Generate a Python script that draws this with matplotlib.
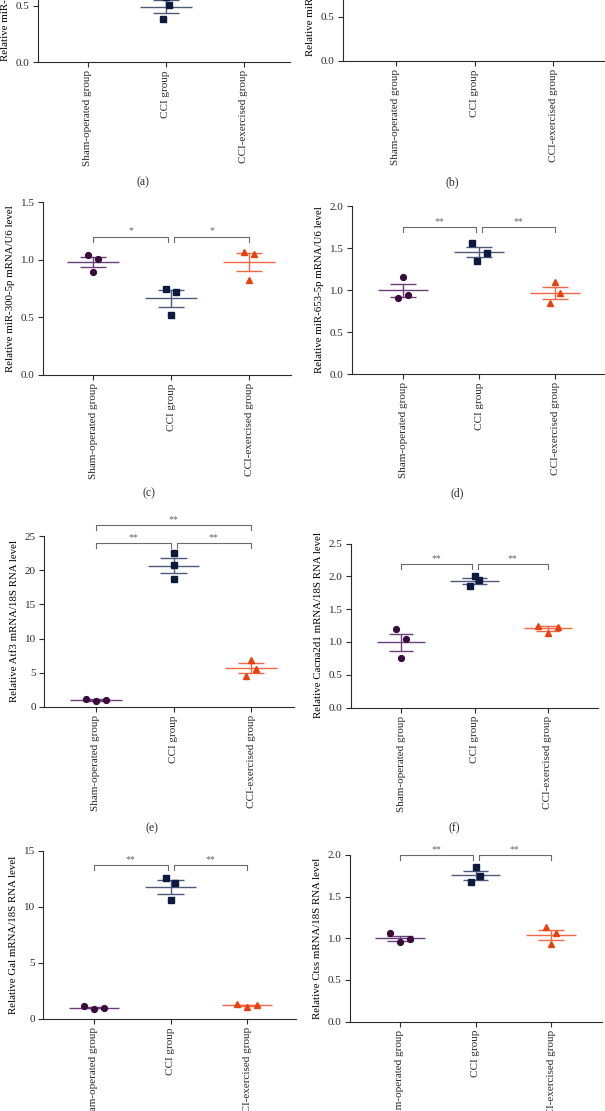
import numpy as np
import matplotlib.pyplot as plt

plt.rcParams['font.family'] = ['Liberation Serif', 'DejaVu Serif']
plt.rcParams['font.size'] = 8

W, H = 605, 1111

groups = ['Sham-operated group', 'CCI group', 'CCI-exercised group']

# (a) only the CCI group is visible in the crop
a_cci = [0.51, 0.38, 0.58]
# (c) miR-300-5p
c_sham = [1.04, 1.01, 0.89]
c_cci = [0.75, 0.72, 0.52]
c_ex = [1.07, 1.05, 0.82]
# (d) miR-653-5p
d_sham = [1.15, 0.90, 0.94]
d_cci = [1.56, 1.35, 1.44]
d_ex = [1.09, 0.85, 0.96]
# (e) Atf3
e_sham = [1.18, 0.84, 1.03]
e_cci = [22.5, 20.7, 18.7]
e_ex = [6.9, 5.6, 4.6]
# (f) Cacna2d1
f_sham = [1.19, 1.05, 0.75]
f_cci = [2.00, 1.94, 1.85]
f_ex = [1.25, 1.14, 1.23]
# (g) Gal
g_sham = [1.12, 0.92, 1.02]
g_cci = [12.6, 12.1, 10.6]
g_ex = [1.34, 1.10, 1.22]
# (h) Ctss
h_sham = [1.06, 0.95, 0.99]
h_cci = [1.85, 1.75, 1.67]
h_ex = [1.14, 1.06, 0.93]

# significance brackets: (from group, to group, height, label)
c_sig = [(0, 1, 1.20, '*'), (1, 2, 1.20, '*')]
d_sig = [(0, 1, 1.75, '**'), (1, 2, 1.75, '**')]
e_sig = [(0, 1, 24.0, '**'), (1, 2, 24.0, '**'), (0, 2, 26.6, '**')]
f_sig = [(0, 1, 2.18, '**'), (1, 2, 2.18, '**')]
g_sig = [(0, 1, 13.75, '**'), (1, 2, 13.75, '**')]
h_sig = [(0, 1, 2.0, '**'), (1, 2, 2.0, '**')]

##########################
# styles
mk_col = ['#3a0c3c', '#0c1a40', '#e8400f']
ln_col = ['#6a3f78', '#4d5a7a', '#f26844']
markers = ['o', 's', '^']
msizes = [4.2, 3.8, 4.3]
axis_col = '#2a2a2a'
sig_col = '#6a6a6a'

# horizontal jitter of the dots (in tick units)
J0 = [0.0, 0.0, 0.0]
Jc = [-0.065, 0.065, 0.0]
Jd = [0.0, -0.065, 0.065]
Jw = [-0.13, 0.0, 0.13]


def place(fig, x0, x1, ytop, ybot):
    "axes box given in pixel coords of the final image"
    return fig.add_axes([x0 / W, 1 - ybot / H, (x1 - x0) / W, (ybot - ytop) / H])


def panel(fig, box, ticks_px, ymax, ystep, yfmt, ylabel, data, jitter, sig):
    x0, x1, ytop, ybot = box
    ax = place(fig, x0, x1, ytop, ybot)
    sp = (ticks_px[2] - ticks_px[0]) / 2
    ax.set_xlim((x0 - ticks_px[0]) / sp, (x1 - ticks_px[0]) / sp)
    ax.set_ylim(0, ymax)

    for i, vals in enumerate(data):
        if vals is None:
            continue
        vals = np.asarray(vals)
        m = vals.mean()
        se = vals.std(ddof=1) / np.sqrt(len(vals))
        ax.hlines(m, i - 0.33, i + 0.33, color=ln_col[i], lw=1.0, zorder=2)
        ax.hlines([m - se, m + se], i - 0.17, i + 0.17, color=ln_col[i], lw=1.0, zorder=2)
        ax.vlines(i, m - se, m + se, color=ln_col[i], lw=1.0, zorder=2)
        ax.plot(i + np.asarray(jitter[i]), vals, ls='none', marker=markers[i],
                ms=msizes[i], color=mk_col[i], mec=mk_col[i], zorder=3)

    drop = 5 / (ybot - ytop) * ymax
    gap = 3 / sp
    for a, b, y, txt in sig:
        xa = a + (gap if a == 1 else 0)
        xb = b - (gap if b == 1 else 0)
        ax.plot([xa, xa, xb, xb], [y - drop, y, y, y - drop], color=sig_col,
                lw=0.8, clip_on=False)
        ax.text((xa + xb) / 2, y + 0.2 * drop, txt, ha='center', va='bottom',
                color=sig_col, fontsize=7, clip_on=False)

    ax.set_xticks([0, 1, 2])
    ax.set_xticklabels(groups, rotation=90)
    ax.set_yticks(np.arange(0, ymax + ystep / 2, ystep))
    ax.set_yticklabels([yfmt % v for v in np.arange(0, ymax + ystep / 2, ystep)])
    ax.set_ylabel(ylabel, fontsize=7.8, labelpad=4)
    for s in ['top', 'right']:
        ax.spines[s].set_visible(False)
    for s in ['left', 'bottom']:
        ax.spines[s].set_color(axis_col)
        ax.spines[s].set_linewidth(0.8)
    ax.tick_params(colors=axis_col, length=3.5, width=0.8, labelsize=8, pad=2.5)
    return ax


fig = plt.figure(figsize=(W / 100, H / 100), dpi=100)

panel(fig, (38, 290, -107, 62), (88, 167, 244), 1.5, 0.5, '%.1f',
      'Relative miR-300-3p mRNA/U6 level', [None, a_cci, None], [J0, [0.04, -0.04, 0.0], J0], [])
panel(fig, (343, 605, -115, 61), (396, 474, 553), 2.0, 0.5, '%.1f',
      'Relative miR-155-5p mRNA/U6 level', [None, None, None], [J0, J0, J0], [])
panel(fig, (43, 291, 202, 375), (93, 171, 249), 1.5, 0.5, '%.1f',
      'Relative miR-300-5p mRNA/U6 level', [c_sham, c_cci, c_ex], [Jc, Jc, Jc], c_sig)
panel(fig, (352, 604, 206, 374), (403, 477, 555), 2.0, 0.5, '%.1f',
      'Relative miR-653-5p mRNA/U6 level', [d_sham, d_cci, d_ex],
      [Jd, [-0.09, -0.03, 0.1], Jd], d_sig)
panel(fig, (44, 294, 536, 707), (96, 173, 251), 25, 5, '%d',
      'Relative Atf3 mRNA/18S RNA level', [e_sham, e_cci, e_ex],
      [Jw, J0, [0.0, 0.065, -0.065]], e_sig)
panel(fig, (351, 598, 543.5, 707.5), (401, 474, 548), 2.5, 0.5, '%.1f',
      'Relative Cacna2d1 mRNA/18S RNA level', [f_sham, f_cci, f_ex],
      [Jc, [0.0, 0.065, -0.065], Jw], f_sig)
panel(fig, (43, 296, 851, 1019), (94, 170, 247), 15, 5, '%d',
      'Relative Gal mRNA/18S RNA level', [g_sham, g_cci, g_ex], [Jw, Jc, Jw], g_sig)
panel(fig, (350, 602, 855, 1021.5), (400, 476, 551), 2.0, 0.5, '%.1f',
      'Relative Ctss mRNA/18S RNA level', [h_sham, h_cci, h_ex],
      [Jw, [0.0, 0.065, -0.065], Jc], h_sig)

for lab, x, y in [('(a)', 143, 182), ('(b)', 452, 182), ('(c)', 149, 493),
                  ('(d)', 457, 493), ('(e)', 152, 828), ('(f)', 454, 828)]:
    fig.text(x / W, 1 - y / H, lab, ha='center', va='center', fontsize=8.5, color=axis_col)

fig.savefig('out.png', dpi=100)
